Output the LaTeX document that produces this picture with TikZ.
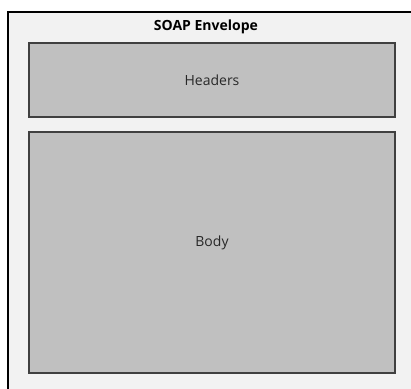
\documentclass[tikz,border=0pt]{standalone}
\usepackage{fontspec}
\setmainfont{Open Sans}
\begin{document}
\begin{tikzpicture}[x=0.75pt,y=-0.75pt,
  envelope/.style={draw=black,line width=1.5pt,fill={rgb,255:red,242;green,242;blue,242}},
  part/.style={draw={rgb,255:red,64;green,64;blue,64},line width=1.5pt,fill={rgb,255:red,192;green,192;blue,192}},
  lbl/.style={font=\fontsize{10.5}{12}\selectfont,text={rgb,255:red,40;green,40;blue,40}}]
  \useasboundingbox (0,0) rectangle (411,389);
  \clip (0,0) rectangle (411,389);
  \fill[white] (0,0) rectangle (411,389);
  % outer envelope, running off the right and bottom edges
  \draw[envelope] (8,12) rectangle (420,400);
  \node[lbl,font=\fontsize{10.5}{12}\selectfont\bfseries,text=black] (title) at (206,27) {SOAP Envelope};
  % header block
  \draw[part] (29,43) rectangle (395,117);
  \node[lbl] (headers) at (212,80) {Headers};
  % body block
  \draw[part] (29,132) rectangle (395,373);
  \node[lbl] (body) at (212,243) {Body};
\end{tikzpicture}
\end{document}
